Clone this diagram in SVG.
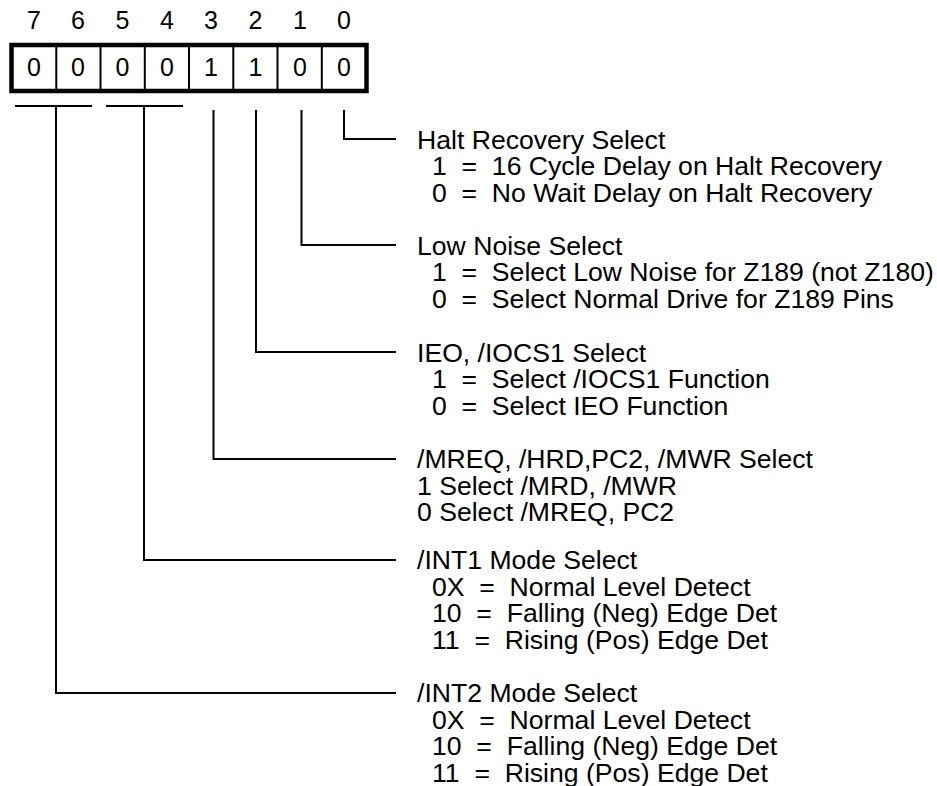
<svg xmlns="http://www.w3.org/2000/svg" width="937" height="786" viewBox="0 0 937 786" xml:space="preserve">
<style>
text{font-family:"Liberation Sans",Arial,sans-serif;fill:#000;white-space:pre}
.t{font-size:26.6px}
.d{font-size:25px;text-anchor:middle}
.ln{stroke:#000;stroke-width:2;fill:none}
</style>
<rect width="937" height="786" fill="#fff"/>
<g id="register">
<g id="bitnums">
<text class="d" x="34" y="28.5">7</text><text class="d" x="78" y="28.5">6</text><text class="d" x="122.5" y="28.5">5</text><text class="d" x="167" y="28.5">4</text><text class="d" x="211" y="28.5">3</text><text class="d" x="255.5" y="28.5">2</text><text class="d" x="300" y="28.5">1</text><text class="d" x="344" y="28.5">0</text>
</g>
<rect x="11.5" y="45" width="355" height="46" fill="#fff" stroke="#000" stroke-width="4.5"/>
<path class="ln" d="M56.3 45V91M100.5 45V91M144.8 45V91M189 45V91M233.3 45V91M277.5 45V91M321.8 45V91"/>
<g id="bitvals">
<text class="d" x="34" y="76">0</text><text class="d" x="78" y="76">0</text><text class="d" x="122.5" y="76">0</text><text class="d" x="167" y="76">0</text><text class="d" x="211" y="76">1</text><text class="d" x="255.5" y="76">1</text><text class="d" x="300" y="76">0</text><text class="d" x="344" y="76">0</text>
</g>
</g>
<g id="connectors">
<path class="ln" d="M15 106H92M56 106V693H396"/>
<path class="ln" d="M106 106H183M144 106V560H396"/>
<path class="ln" d="M213.5 110V459H396"/>
<path class="ln" d="M256 110V352H396"/>
<path class="ln" d="M301.5 110V245H396"/>
<path class="ln" d="M344 110V139H396"/>
</g>
<g id="halt">
<text class="t" x="417" y="148.5">Halt Recovery Select</text>
<text class="t" x="432" y="175">1  =  16 Cycle Delay on Halt Recovery</text>
<text class="t" x="432" y="201.5">0  =  No Wait Delay on Halt Recovery</text>
</g>
<g id="lownoise">
<text class="t" x="417" y="254.5">Low Noise Select</text>
<text class="t" x="432" y="281">1  =  Select Low Noise for Z189 (not Z180)</text>
<text class="t" x="432" y="307.5">0  =  Select Normal Drive for Z189 Pins</text>
</g>
<g id="ieo">
<text class="t" x="417" y="361.5">IEO, /IOCS1 Select</text>
<text class="t" x="432" y="388">1  =  Select /IOCS1 Function</text>
<text class="t" x="432" y="414.5">0  =  Select IEO Function</text>
</g>
<g id="mreq">
<text class="t" x="417" y="468">/MREQ, /HRD,PC2, /MWR Select</text>
<text class="t" x="417" y="494.5">1 Select /MRD, /MWR</text>
<text class="t" x="417" y="521">0 Select /MREQ, PC2</text>
</g>
<g id="int1">
<text class="t" x="417" y="569">/INT1 Mode Select</text>
<text class="t" x="432" y="595.5">0X  =  Normal Level Detect</text>
<text class="t" x="432" y="622">10  =  Falling (Neg) Edge Det</text>
<text class="t" x="432" y="648.5">11  =  Rising (Pos) Edge Det</text>
</g>
<g id="int2">
<text class="t" x="417" y="702">/INT2 Mode Select</text>
<text class="t" x="432" y="728.5">0X  =  Normal Level Detect</text>
<text class="t" x="432" y="755">10  =  Falling (Neg) Edge Det</text>
<text class="t" x="432" y="781.5">11  =  Rising (Pos) Edge Det</text>
</g>
</svg>
